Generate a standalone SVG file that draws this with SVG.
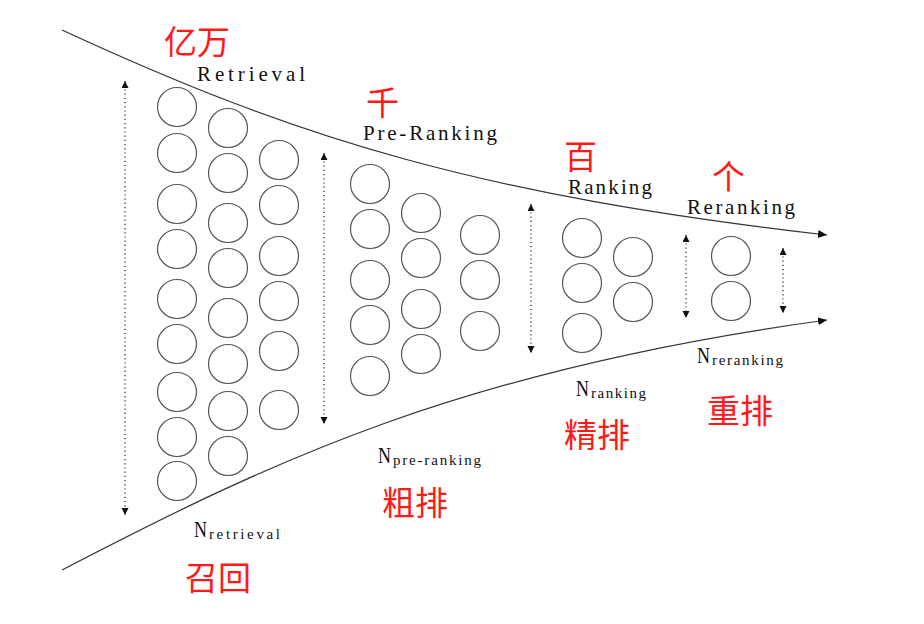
<svg xmlns="http://www.w3.org/2000/svg" width="924" height="624" viewBox="0 0 924 624">
<style>
.c{fill:none;stroke:#555;stroke-width:1.2}
.flow{fill:none;stroke:#333;stroke-width:1.2}
.dot{fill:none;stroke:#222;stroke-width:1.2;stroke-dasharray:1.2 3}
.en{font-family:"Liberation Serif",serif;font-size:21px;fill:#111}
.n{font-family:"Liberation Serif",serif;font-size:23px;fill:#111}
.sub{font-family:"Liberation Serif",serif;font-size:15px;fill:#111}
.zh{font-family:"Noto Sans CJK SC",sans-serif;font-size:33px;fill:#ff1a1a}
</style>
<defs>
<marker id="ah" markerUnits="userSpaceOnUse" markerWidth="10" markerHeight="10" refX="9" refY="4" orient="auto-start-reverse"><path d="M0,0 L9,4 L0,8 z" fill="#111"/></marker>
<marker id="sh" markerUnits="userSpaceOnUse" markerWidth="8" markerHeight="8" refX="7" refY="3.5" orient="auto-start-reverse"><path d="M0,0 L7,3.5 L0,7 z" fill="#111"/></marker>
</defs>
<rect width="924" height="624" fill="#fff"/>
<g id="connectors">
<path class="flow" d="M62,30 C300,140 480,195 827,235" marker-end="url(#ah)"/>
<path class="flow" d="M62,570 C270,462 460,370 827,320" marker-end="url(#ah)"/>
<line class="dot" x1="125" y1="81" x2="125" y2="515" marker-start="url(#sh)" marker-end="url(#sh)"/>
<line class="dot" x1="324" y1="153" x2="324" y2="424" marker-start="url(#sh)" marker-end="url(#sh)"/>
<line class="dot" x1="531" y1="204" x2="531" y2="353" marker-start="url(#sh)" marker-end="url(#sh)"/>
<line class="dot" x1="686" y1="235" x2="686" y2="318" marker-start="url(#sh)" marker-end="url(#sh)"/>
<line class="dot" x1="783" y1="248" x2="783" y2="313" marker-start="url(#sh)" marker-end="url(#sh)"/>
</g>
<g id="retrieval">
<circle class="c" cx="177" cy="107" r="19.5"/>
<circle class="c" cx="177" cy="153" r="19.5"/>
<circle class="c" cx="177" cy="204" r="19.5"/>
<circle class="c" cx="177" cy="249" r="19.5"/>
<circle class="c" cx="177" cy="299" r="19.5"/>
<circle class="c" cx="177" cy="344" r="19.5"/>
<circle class="c" cx="177" cy="392" r="19.5"/>
<circle class="c" cx="177" cy="437" r="19.5"/>
<circle class="c" cx="177" cy="481" r="19.5"/>
<circle class="c" cx="228" cy="128" r="19.5"/>
<circle class="c" cx="228" cy="173" r="19.5"/>
<circle class="c" cx="228" cy="223" r="19.5"/>
<circle class="c" cx="228" cy="268" r="19.5"/>
<circle class="c" cx="228" cy="318" r="19.5"/>
<circle class="c" cx="228" cy="364" r="19.5"/>
<circle class="c" cx="228" cy="411" r="19.5"/>
<circle class="c" cx="228" cy="456" r="19.5"/>
<circle class="c" cx="279" cy="160" r="19.5"/>
<circle class="c" cx="279" cy="205" r="19.5"/>
<circle class="c" cx="279" cy="256" r="19.5"/>
<circle class="c" cx="279" cy="301" r="19.5"/>
<circle class="c" cx="279" cy="351" r="19.5"/>
<circle class="c" cx="279" cy="410" r="19.5"/>
<text class="zh" x="164" y="54">亿万</text>
<text class="en" x="197" y="81" textLength="108">Retrieval</text>
<text class="n" x="194" y="537" textLength="13" lengthAdjust="spacingAndGlyphs">N</text>
<text class="sub" x="209" y="539" textLength="71">retrieval</text>
<text class="zh" x="185" y="590">召回</text>
</g>
<g id="pre-ranking">
<circle class="c" cx="370" cy="184" r="19.5"/>
<circle class="c" cx="370" cy="229" r="19.5"/>
<circle class="c" cx="370" cy="280" r="19.5"/>
<circle class="c" cx="370" cy="325" r="19.5"/>
<circle class="c" cx="370" cy="376" r="19.5"/>
<circle class="c" cx="421" cy="213" r="19.5"/>
<circle class="c" cx="421" cy="258" r="19.5"/>
<circle class="c" cx="421" cy="309" r="19.5"/>
<circle class="c" cx="421" cy="354" r="19.5"/>
<circle class="c" cx="480" cy="235" r="19.5"/>
<circle class="c" cx="480" cy="280" r="19.5"/>
<circle class="c" cx="480" cy="331" r="19.5"/>
<text class="zh" x="366" y="115">千</text>
<text class="en" x="363" y="140" textLength="134">Pre-Ranking</text>
<text class="n" x="378" y="463" textLength="13" lengthAdjust="spacingAndGlyphs">N</text>
<text class="sub" x="393" y="465" textLength="88">pre-ranking</text>
<text class="zh" x="382" y="515">粗排</text>
</g>
<g id="ranking">
<circle class="c" cx="582" cy="238" r="19.5"/>
<circle class="c" cx="582" cy="283" r="19.5"/>
<circle class="c" cx="582" cy="333" r="19.5"/>
<circle class="c" cx="633" cy="257" r="19.5"/>
<circle class="c" cx="633" cy="302" r="19.5"/>
<text class="zh" x="564" y="169">百</text>
<text class="en" x="568" y="194" textLength="84">Ranking</text>
<text class="n" x="576" y="396" textLength="13" lengthAdjust="spacingAndGlyphs">N</text>
<text class="sub" x="591" y="398" textLength="55">ranking</text>
<text class="zh" x="564" y="447">精排</text>
</g>
<g id="reranking">
<circle class="c" cx="731" cy="256" r="19.5"/>
<circle class="c" cx="731" cy="301" r="19.5"/>
<text class="zh" x="712" y="189">个</text>
<text class="en" x="687" y="214" textLength="108">Reranking</text>
<text class="n" x="697" y="363" textLength="13" lengthAdjust="spacingAndGlyphs">N</text>
<text class="sub" x="712" y="365" textLength="71">reranking</text>
<text class="zh" x="707" y="423">重排</text>
</g>
</svg>
